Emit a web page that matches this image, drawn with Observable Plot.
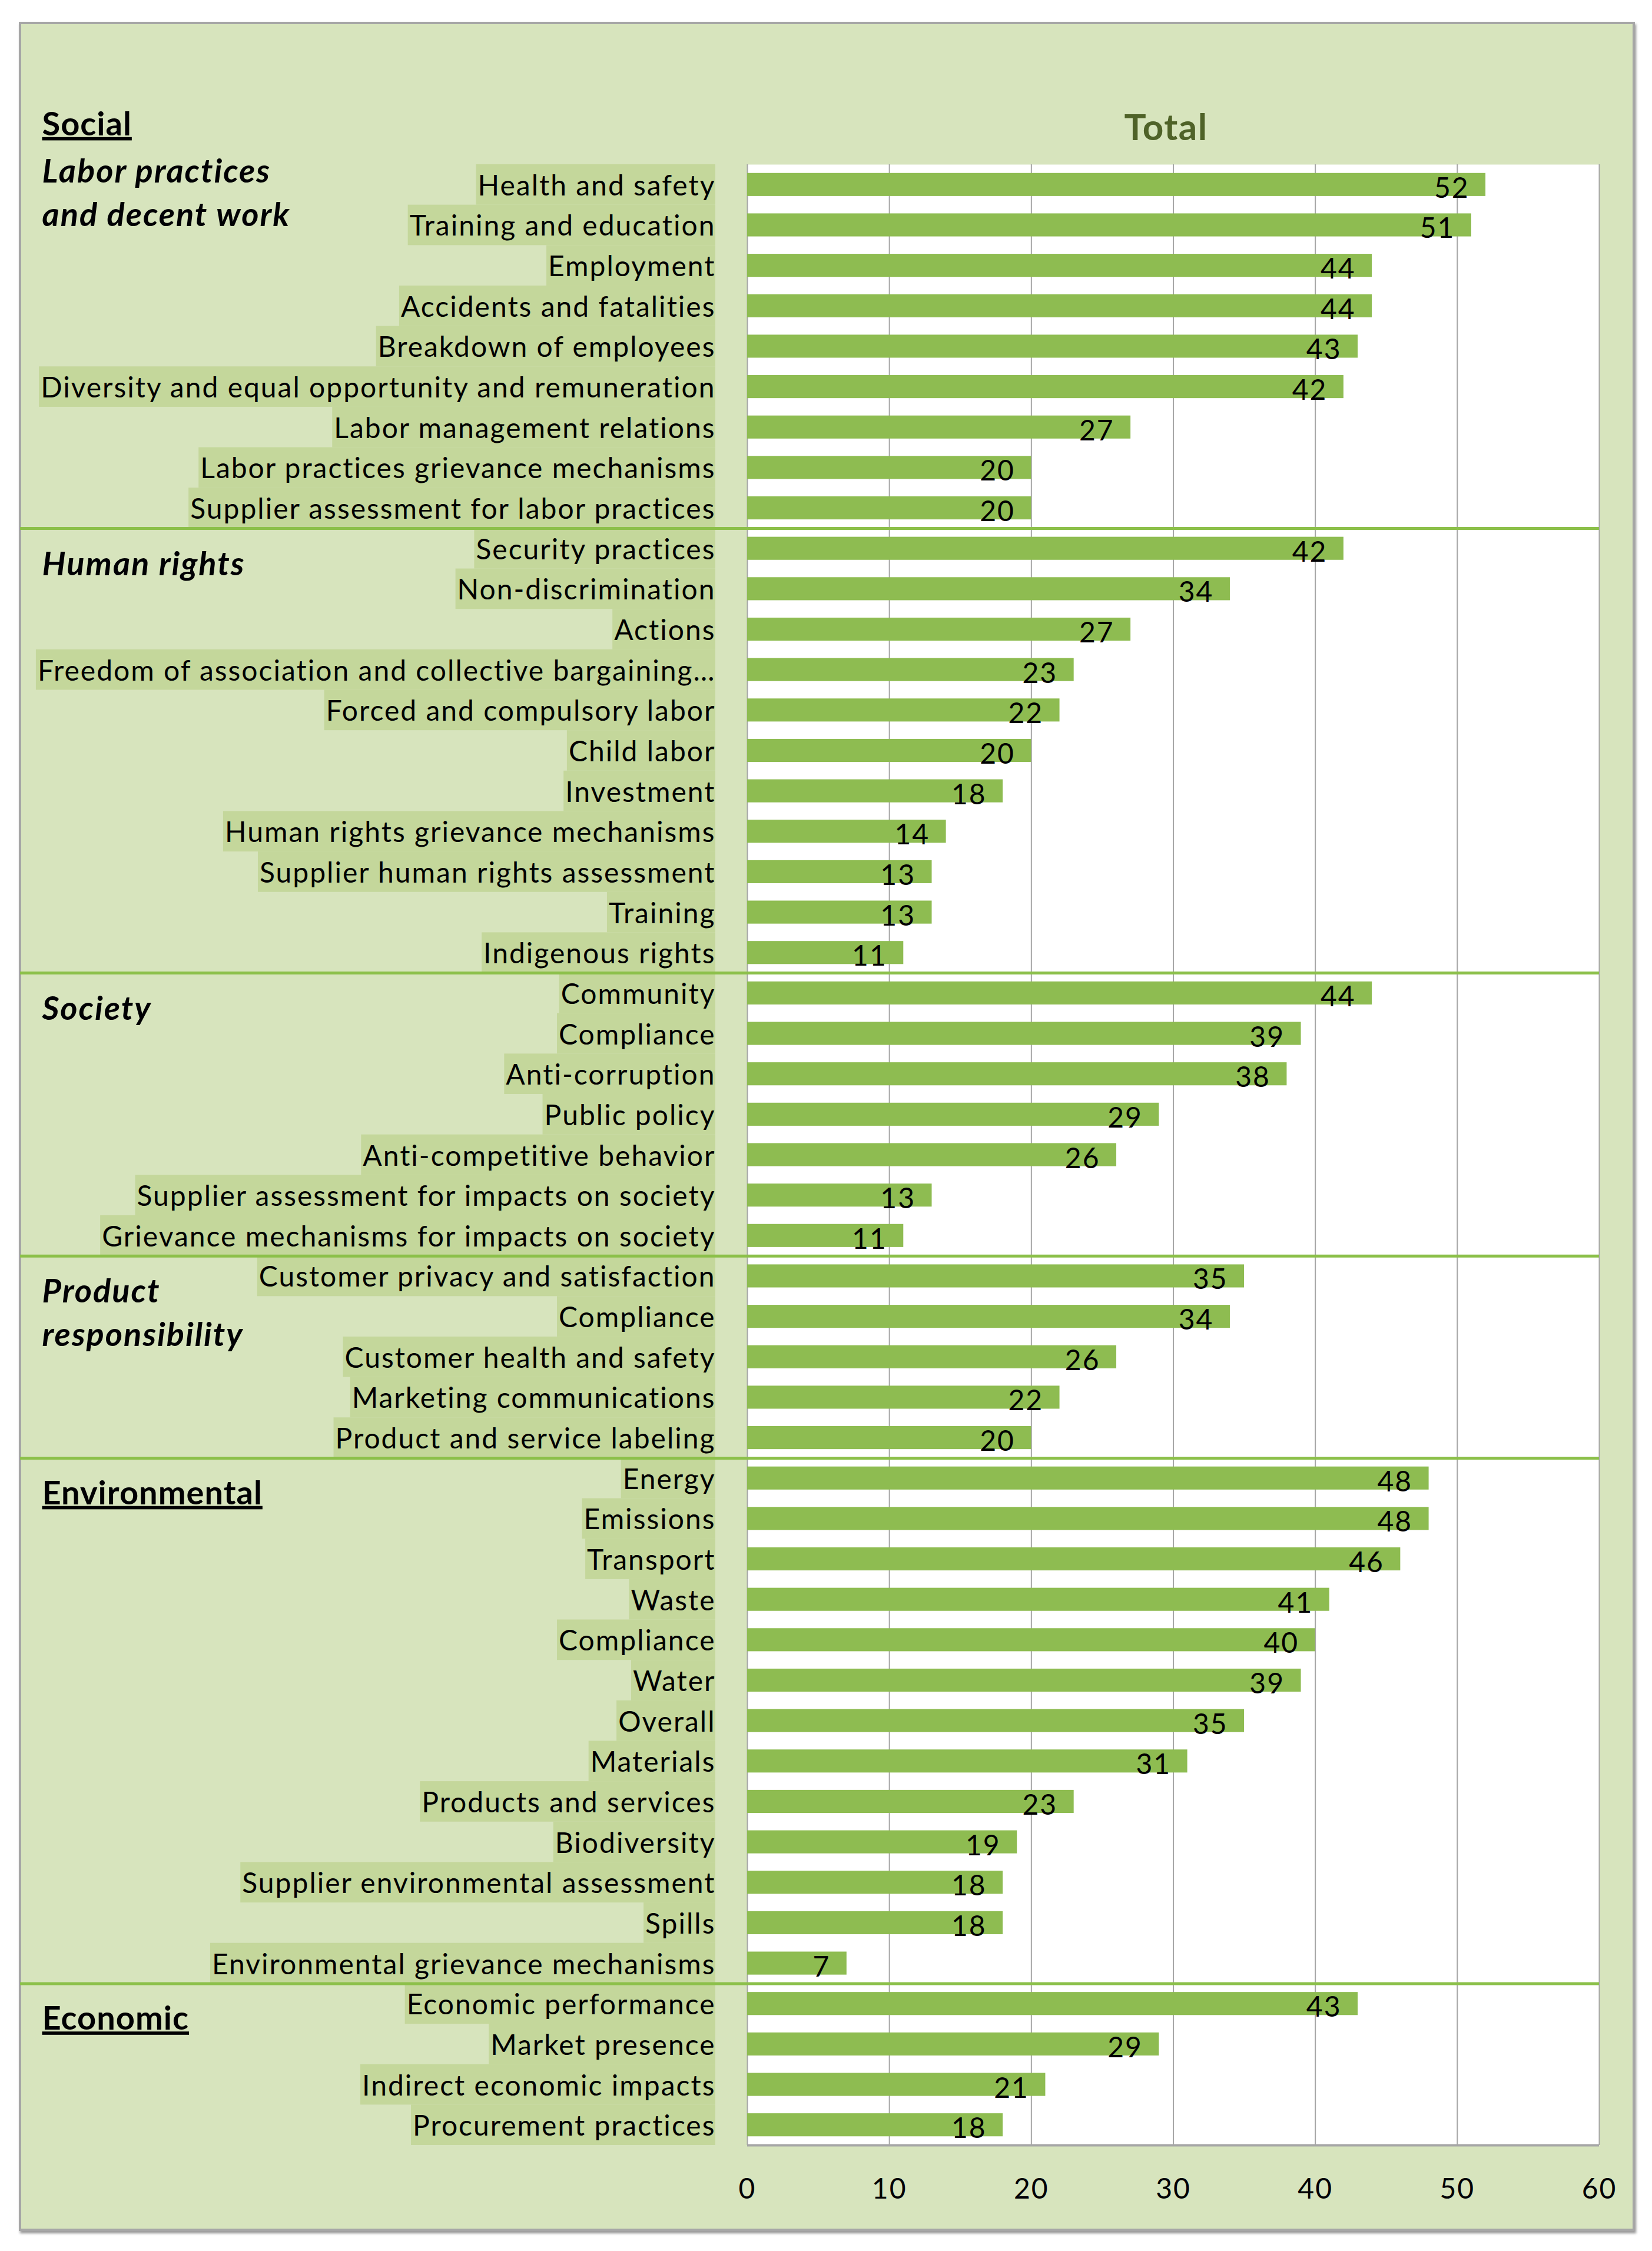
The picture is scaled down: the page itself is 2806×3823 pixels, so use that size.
<!DOCTYPE html>
<html>
<head>
<meta charset="utf-8">
<script src="https://cdn.jsdelivr.net/npm/d3@7"></script>
<script src="https://cdn.jsdelivr.net/npm/@observablehq/plot@0.6"></script>
<style>
  body { margin: 0; background: #ffffff; }
  #wrap { position: relative; width: 2806px; height: 3823px; font-family: Lato, "Open Sans", sans-serif; }
  #frame { position: absolute; left: 32px; top: 37px; width: 2745px; height: 3752px; box-sizing: border-box;
           background: #d7e4bd; border: 4px solid #a6a6a6; box-shadow: 2px 4px 4px #9a9a9a; }
  #title { position: absolute; left: 1257px; width: 1447px; top: 181px; text-align: center;
           font-family: Lato, sans-serif; font-weight: bold; font-size: 62px; letter-spacing: 1.5px;
           line-height: 66px; color: #4f6228; }
  #chart { position: absolute; left: 0; top: 0; }
</style>
</head>
<body>
<div id="wrap">
  <div id="frame"></div>
  <div id="title">Total</div>
  <div id="chart"></div>
</div>
<script>
// ---- data ----
const laborCats = ["Health and safety", "Training and education", "Employment", "Accidents and fatalities",
  "Breakdown of employees", "Diversity and equal opportunity and remuneration", "Labor management relations",
  "Labor practices grievance mechanisms", "Supplier assessment for labor practices"];
const laborVals = [52, 51, 44, 44, 43, 42, 27, 20, 20];

const humanCats = ["Security practices", "Non-discrimination", "Actions",
  "Freedom of association and collective bargaining…", "Forced and compulsory labor", "Child labor",
  "Investment", "Human rights grievance mechanisms", "Supplier human rights assessment", "Training",
  "Indigenous rights"];
const humanVals = [42, 34, 27, 23, 22, 20, 18, 14, 13, 13, 11];

const societyCats = ["Community", "Compliance", "Anti-corruption", "Public policy", "Anti-competitive behavior",
  "Supplier assessment for impacts on society", "Grievance mechanisms for impacts on society"];
const societyVals = [44, 39, 38, 29, 26, 13, 11];

const productCats = ["Customer privacy and satisfaction", "Compliance", "Customer health and safety",
  "Marketing communications", "Product and service labeling"];
const productVals = [35, 34, 26, 22, 20];

const envCats = ["Energy", "Emissions", "Transport", "Waste", "Compliance", "Water", "Overall", "Materials",
  "Products and services", "Biodiversity", "Supplier environmental assessment", "Spills",
  "Environmental grievance mechanisms"];
const envVals = [48, 48, 46, 41, 40, 39, 35, 31, 23, 19, 18, 18, 7];

const econCats = ["Economic performance", "Market presence", "Indirect economic impacts", "Procurement practices"];
const econVals = [43, 29, 21, 18];

const xTicks = [0, 10, 20, 30, 40, 50, 60];

// section (underlined) titles and sub-group (italic) titles
const sectionTitles = ["Social", "Environmental", "Economic"];
const sectionGroups = ["labor", "env", "econ"];
const subTitles = [["Labor practices", "and decent work"], ["Human rights"], ["Society"], ["Product", "responsibility"]];
const subGroups = ["labor", "human", "society", "product"];

// ---- build table ----
const groups = [
  {key: "labor", cats: laborCats, vals: laborVals},
  {key: "human", cats: humanCats, vals: humanVals},
  {key: "society", cats: societyCats, vals: societyVals},
  {key: "product", cats: productCats, vals: productVals},
  {key: "env", cats: envCats, vals: envVals},
  {key: "econ", cats: econCats, vals: econVals}
];
const rows = [];
groups.forEach(g => g.cats.forEach((c, i) => rows.push({id: g.key + "-" + i, label: c, value: g.vals[i], group: g.key, first: i === 0})));
const firstId = key => key + "-0";

// ---- layout ----
const W = 2806, H = 3823, mL = 1269, mR = 90, mT = 279, mB = 180;
const step = (H - mT - mB) / rows.length;
const labelGap = 54;
const catFont = 48, grpFont = 56, valFont = 48, tickFont = 48;
const grpX = 71 - mL;
// near-black tints used only to tag the text marks for later styling
const INK_CAT = "#000001", INK_VAL = "#000002", INK_SEC = "#000003", INK_SUB = "#000004", INK_TICK = "#000005";

const sectionData = sectionTitles.map((t, i) => ({text: t, y: firstId(sectionGroups[i]), off: i === 0 ? -84 : 44}));
const subData = [];
subTitles.forEach((lines, i) => lines.forEach((t, j) => subData.push({
  text: t, y: firstId(subGroups[i]), off: (i === 0 ? -4 : 45) + j * 74
})));

const chart = Plot.plot({
  width: W, height: H,
  marginLeft: mL, marginRight: mR, marginTop: mT, marginBottom: mB,
  style: {background: "transparent", fontFamily: "Lato, 'Open Sans', sans-serif", overflow: "visible", maxWidth: "none"},
  x: {domain: [0, 60], axis: null},
  y: {domain: rows.map(d => d.id), paddingInner: 0.43, paddingOuter: 0.215, axis: null},
  marks: [
    Plot.frame({fill: "white", stroke: null}),
    Plot.gridX(xTicks, {stroke: "#a6a6a6", strokeOpacity: 1, strokeWidth: 2}),
    Plot.ruleY([rows[rows.length - 1].id], {dy: step / 2, stroke: "#a6a6a6", strokeWidth: 4}),
    Plot.barX(rows, {x: "value", y: "id", fill: "#8ebc51"}),
    Plot.text(rows, {x: "value", y: "id", text: d => String(d.value), textAnchor: "end",
      dx: -28, dy: 22 - 0.32 * valFont, fontSize: valFont, fill: INK_VAL}),
    Plot.text(rows, {y: "id", text: "label", frameAnchor: "left", textAnchor: "end",
      dx: -labelGap, dy: 18 - 0.32 * catFont, fontSize: catFont, fill: INK_CAT}),
    Plot.ruleY(rows.filter(d => d.first && d.group !== "labor"), {y: "id", dy: -step / 2,
      insetLeft: -(mL - 34), stroke: "#8cc04a", strokeWidth: 5}),
    ...sectionData.map(d => Plot.text([d], {y: "y", text: "text", frameAnchor: "left", textAnchor: "start",
      dx: grpX, dy: d.off - 0.32 * grpFont, fontSize: grpFont, fontWeight: "bold", fill: INK_SEC})),
    ...subData.map(d => Plot.text([d], {y: "y", text: "text", frameAnchor: "left", textAnchor: "start",
      dx: grpX, dy: d.off - 0.32 * grpFont, fontSize: grpFont, fontWeight: "bold", fontStyle: "italic",
      fill: INK_SUB})),
    Plot.axisX(xTicks, {anchor: "bottom", tickSize: 0, tickPadding: 56, fontSize: tickFont, fill: INK_TICK,
      label: null})
  ]
});

document.getElementById("chart").append(chart);

const sel = d3.select(chart);
const texts = ink => sel.selectAll(`g[fill="${ink}"] text`);
texts(INK_SEC).style("text-decoration", "underline").style("text-decoration-thickness", "5px")
  .style("letter-spacing", "1px");
texts(INK_SUB).style("letter-spacing", "2px");
texts(INK_CAT).style("letter-spacing", "2px");
texts(INK_VAL).style("letter-spacing", "2px");
texts(INK_TICK).style("letter-spacing", "2px");

// highlight boxes behind category labels
const ys = chart.scale("y");
const svgBox = chart.getBoundingClientRect();
const labelRight = mL - labelGap;
const catG = sel.select(`g[fill="${INK_CAT}"]`).node();
const hl = d3.select(chart.insertBefore(document.createElementNS("http://www.w3.org/2000/svg", "g"), catG));
texts(INK_CAT).each(function(_, i) {
  const b = this.getBoundingClientRect();
  const x0 = b.left - svgBox.left - 3;
  const y0 = ys.apply(rows[i].id) - (step - ys.bandwidth) / 2;
  hl.append("rect").attr("x", x0).attr("y", y0)
    .attr("width", Math.max(0, labelRight - x0)).attr("height", step).attr("fill", "#c4d79b");
});
</script>
</body>
</html>
